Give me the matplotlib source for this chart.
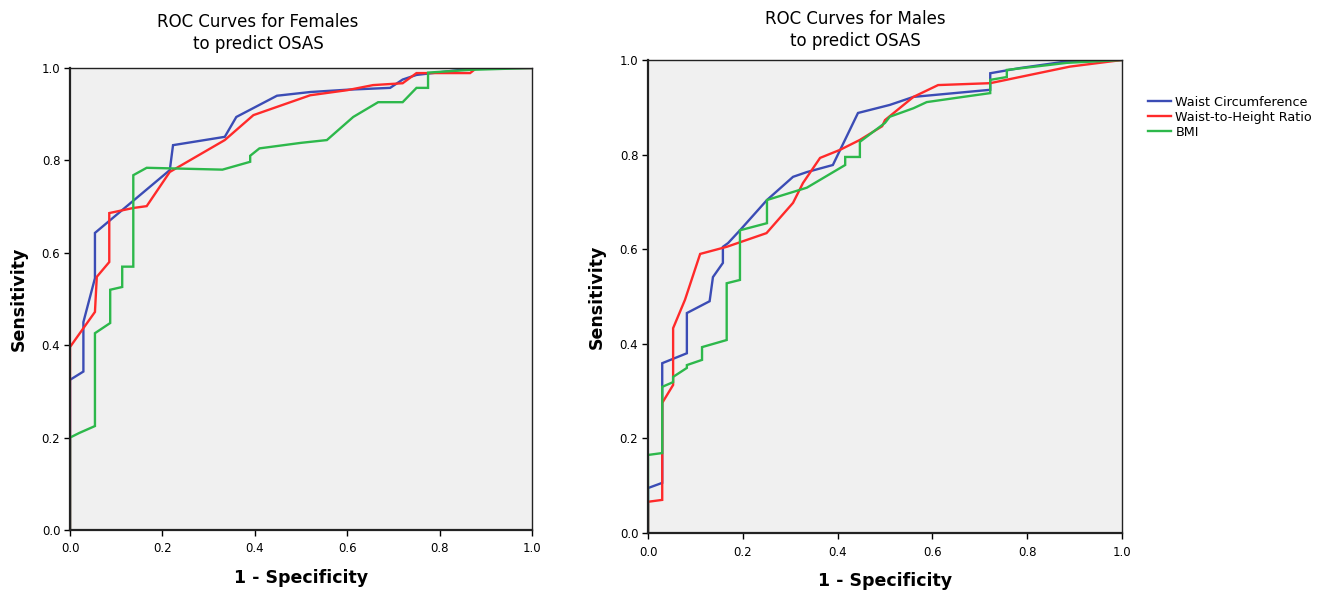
import matplotlib
matplotlib.use('Agg')
import matplotlib.pyplot as plt

# ---- Females: (1 - specificity, sensitivity) pairs ----
f_waist_x = [0.0, 0.0, 0.029, 0.029, 0.054, 0.054, 0.216, 0.223, 0.335, 0.36, 0.448, 0.52, 0.60, 0.693, 0.72, 0.75, 0.88, 1.0]
f_waist_y = [0.0, 0.325, 0.343, 0.45, 0.545, 0.643, 0.779, 0.833, 0.851, 0.894, 0.94, 0.948, 0.953, 0.957, 0.975, 0.985, 1.0, 1.0]

f_whr_x = [0.0, 0.0, 0.054, 0.058, 0.085, 0.085, 0.137, 0.166, 0.216, 0.335, 0.397, 0.52, 0.60, 0.656, 0.72, 0.75, 0.866, 0.88, 1.0]
f_whr_y = [0.0, 0.396, 0.472, 0.548, 0.58, 0.686, 0.697, 0.701, 0.775, 0.844, 0.898, 0.941, 0.952, 0.963, 0.967, 0.989, 0.989, 1.0, 1.0]

f_bmi_x = [0.0, 0.0, 0.02, 0.054, 0.054, 0.087, 0.087, 0.113, 0.113, 0.137, 0.137, 0.166, 0.33, 0.39, 0.39, 0.41, 0.50, 0.556, 0.613, 0.667, 0.72, 0.75, 0.775, 0.775, 0.866, 1.0]
f_bmi_y = [0.0, 0.2, 0.21, 0.225, 0.426, 0.448, 0.52, 0.526, 0.57, 0.57, 0.768, 0.784, 0.78, 0.797, 0.81, 0.826, 0.838, 0.844, 0.894, 0.926, 0.926, 0.957, 0.957, 0.99, 0.996, 1.0]

# ---- Males ----
m_waist_x = [0.0, 0.0, 0.03, 0.03, 0.082, 0.082, 0.13, 0.137, 0.158, 0.158, 0.169, 0.194, 0.251, 0.306, 0.335, 0.39, 0.443, 0.51, 0.56, 0.722, 0.722, 0.785, 0.876, 1.0]
m_waist_y = [0.0, 0.095, 0.106, 0.359, 0.38, 0.465, 0.49, 0.541, 0.571, 0.605, 0.613, 0.64, 0.704, 0.753, 0.763, 0.778, 0.888, 0.905, 0.922, 0.937, 0.972, 0.983, 0.996, 1.0]

m_whr_x = [0.0, 0.0, 0.03, 0.03, 0.053, 0.053, 0.078, 0.11, 0.166, 0.25, 0.306, 0.327, 0.363, 0.405, 0.447, 0.494, 0.5, 0.56, 0.612, 0.722, 0.89, 1.0]
m_whr_y = [0.0, 0.066, 0.07, 0.275, 0.313, 0.433, 0.493, 0.59, 0.605, 0.634, 0.698, 0.74, 0.793, 0.81, 0.831, 0.86, 0.873, 0.922, 0.947, 0.951, 0.986, 1.0]

m_bmi_x = [0.0, 0.0, 0.03, 0.03, 0.053, 0.053, 0.082, 0.082, 0.114, 0.114, 0.166, 0.166, 0.194, 0.194, 0.251, 0.251, 0.335, 0.416, 0.416, 0.447, 0.447, 0.5, 0.51, 0.56, 0.588, 0.665, 0.722, 0.722, 0.757, 0.757, 0.884, 1.0]
m_bmi_y = [0.0, 0.165, 0.169, 0.309, 0.319, 0.33, 0.349, 0.355, 0.366, 0.393, 0.408, 0.528, 0.535, 0.64, 0.655, 0.704, 0.73, 0.778, 0.795, 0.795, 0.827, 0.867, 0.88, 0.898, 0.911, 0.922, 0.93, 0.958, 0.964, 0.979, 0.994, 1.0]

series_names = ['Waist Circumference', 'Waist-to-Height Ratio', 'BMI']
colors = ['#3b4cb5', '#ff2a2a', '#2db84b']
ticks = [0.0, 0.2, 0.4, 0.6, 0.8, 1.0]

title_font = ['Liberation Sans Narrow', 'DejaVu Sans']


def draw_panel(ax, curves):
    ax.set_facecolor('#f0f0f0')
    for (xs, ys), name, c in zip(curves, series_names, colors):
        ax.plot(xs, ys, color=c, lw=1.7, label=name, solid_joinstyle='miter')
    ax.set_xlim(0, 1)
    ax.set_ylim(0, 1)
    ax.set_xticks(ticks)
    ax.set_yticks(ticks)
    ax.set_xticklabels(['%.1f' % t for t in ticks])
    ax.set_yticklabels(['%.1f' % t for t in ticks])
    ax.tick_params(direction='out', length=4, width=1, labelsize=8.5, pad=3)
    ax.tick_params(axis='x', pad=5)
    for s in ax.spines.values():
        s.set_color('#222222')
        s.set_linewidth(1.0)
    ax.spines['left'].set_linewidth(1.6)
    ax.spines['bottom'].set_linewidth(1.6)
    ax.set_xlabel('1 - Specificity', fontsize=12.5, fontweight='bold', labelpad=10)
    ax.set_ylabel('Sensitivity', fontsize=12.5, fontweight='bold', labelpad=10)


fig = plt.figure(figsize=(13.38, 5.92), dpi=100)

ax1 = fig.add_axes([70 / 1338, 1 - 530 / 592, 462 / 1338, 462 / 592])
draw_panel(ax1, [(f_waist_x, f_waist_y), (f_whr_x, f_whr_y), (f_bmi_x, f_bmi_y)])

ax2 = fig.add_axes([648 / 1338, 1 - 533 / 592, 474 / 1338, 473 / 592])
draw_panel(ax2, [(m_waist_x, m_waist_y), (m_whr_x, m_whr_y), (m_bmi_x, m_bmi_y)])

fig.text(258 / 1338, 1 - 33 / 592, 'ROC Curves for Females\nto predict OSAS',
         ha='center', va='center', fontsize=12, linespacing=1.25, family=title_font)
fig.text(855 / 1338, 1 - 30 / 592, 'ROC Curves for Males\nto predict OSAS',
         ha='center', va='center', fontsize=12, linespacing=1.25, family=title_font)

ax2.legend(loc='upper left', bbox_to_anchor=(1.045, 0.935), frameon=False,
           fontsize=9.2, handlelength=1.8, handletextpad=0.3, labelspacing=0.15,
           borderaxespad=0)

fig.savefig('out.png', dpi=100)
